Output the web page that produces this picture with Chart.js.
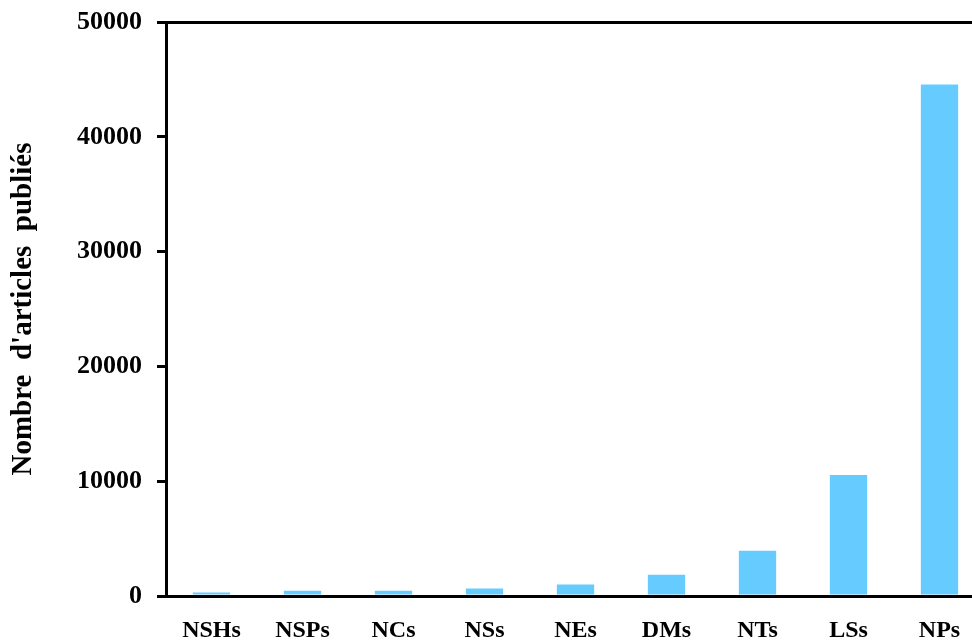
<!DOCTYPE html>
<html lang="fr">
<head>
    <meta charset="UTF-8">
    <title>Nombre d'articles publiés</title>
    <script src="https://cdn.jsdelivr.net/npm/chart.js"></script>
    <style>
        html, body { margin: 0; padding: 0; background: #fff; overflow: hidden; }
        canvas { display: block; }
    </style>
</head>
<body>
    <canvas id="barChart" width="985" height="641"></canvas>

    <script>
        // données
        const categories = ['NSHs', 'NSPs', 'NCs', 'NSs', 'NEs', 'DMs', 'NTs', 'LSs', 'NPs'];
        const articles = [300, 450, 450, 650, 1000, 1850, 3950, 10550, 44550];
        const yTicks = [0, 10000, 20000, 30000, 40000, 50000];
        const yTitle = "Nombre  d'articles  publiés";

        const serif = '"Liberation Serif", "Times New Roman", serif';

        function renderChart() {
            const ctx = document.getElementById('barChart').getContext('2d');
            new Chart(ctx, {
                type: 'bar',
                data: {
                    labels: categories,
                    datasets: [{
                        data: articles,
                        backgroundColor: '#66CCFF',
                        borderWidth: 0,
                        barPercentage: 0.41,
                        categoryPercentage: 1
                    }]
                },
                options: {
                    responsive: false,
                    animation: false,
                    layout: { padding: { top: 22, left: 0, right: 0, bottom: 0 } },
                    plugins: {
                        legend: { display: false },
                        tooltip: { enabled: false }
                    },
                    scales: {
                        x: {
                            grid: { display: false, drawTicks: false },
                            border: { display: true, color: '#000', width: 3 },
                            ticks: {
                                color: '#000',
                                padding: 20,
                                maxRotation: 0,
                                font: { family: serif, size: 24, weight: 'bold' }
                            },
                            afterFit: scale => { scale.height = 45; }
                        },
                        y: {
                            min: 0,
                            max: 50000,
                            afterBuildTicks: scale => {
                                scale.ticks = yTicks.map(v => ({ value: v }));
                            },
                            grid: {
                                drawOnChartArea: true,
                                color: c => (c.tick && c.tick.value === 50000) ? '#000' : 'rgba(0,0,0,0)',
                                tickColor: '#000',
                                lineWidth: 3,
                                tickWidth: 3,
                                tickLength: 9
                            },
                            border: { display: true, color: '#000', width: 3 },
                            ticks: {
                                color: '#000',
                                padding: 15,
                                font: { family: serif, size: 26, weight: 'bold' },
                                callback: v => String(v)
                            },
                            title: {
                                display: true,
                                text: yTitle,
                                color: '#000',
                                padding: { top: 6, bottom: 0 },
                                font: { family: serif, size: 29, weight: 'bold' }
                            },
                            afterFit: scale => {
                                scale.width = 166;
                                scale.paddingTop = 0;
                                scale.paddingBottom = 0;
                            }
                        }
                    }
                }
            });
        }

        window.onload = renderChart;
    </script>
</body>
</html>
